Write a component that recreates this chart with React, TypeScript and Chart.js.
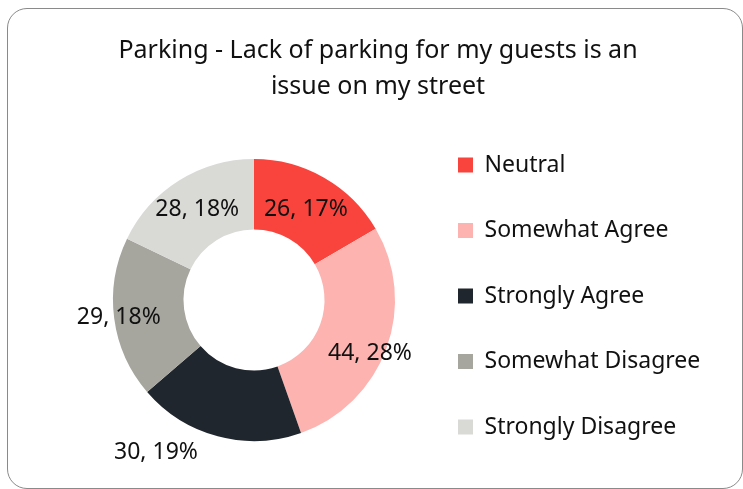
import React, { useEffect, useRef } from 'react';
import { Chart, registerables } from 'chart.js';

Chart.register(...registerables);

const categories = ['Neutral', 'Somewhat Agree', 'Strongly Agree', 'Somewhat Disagree', 'Strongly Disagree'];
const counts = [26, 44, 30, 29, 28];
const percents = [17, 28, 19, 18, 18];
const colors = ['#F9443D', '#FDB3AF', '#20262D', '#A6A59E', '#D9D9D6'];
const titleLines = ['Parking - Lack of parking for my guests is an', 'issue on my street'];

// label placement: distance from centre as a fraction of the outer radius, and angular shift (degrees)
const labelRadius = [0.74, 0.905, 1.283, 0.967, 0.757];
const labelShift = [0, 4.6, 17.9, 0, 0];

const FONT = '"Noto Sans", sans-serif';
const LEGEND_SIZE = 23;

const labelPlugin = {
  id: 'sliceLabels',
  afterDatasetsDraw(chart: any) {
    const meta = chart.getDatasetMeta(0);
    const ctx = chart.ctx;
    ctx.save();
    ctx.font = `23px ${FONT}`;
    ctx.fillStyle = '#111111';
    ctx.textAlign = 'center';
    ctx.textBaseline = 'middle';
    meta.data.forEach((arc: any, i: number) => {
      const p = arc.getProps(['x', 'y', 'startAngle', 'endAngle', 'outerRadius'], true);
      const a = (p.startAngle + p.endAngle) / 2 + (labelShift[i] * Math.PI) / 180;
      const r = p.outerRadius * labelRadius[i];
      ctx.fillText(`${counts[i]}, ${percents[i]}%`, p.x + Math.cos(a) * r, p.y + Math.sin(a) * r);
    });
    ctx.restore();
  },
};

const titleCenterPlugin = {
  id: 'titleCenter',
  afterLayout(chart: any) {
    const t = chart.titleBlock;
    if (t) {
      t.left = 13;
      t.right = 743;
      t.width = 730;
    }
  },
};

export default function App() {
  const ref = useRef<HTMLCanvasElement | null>(null);

  useEffect(() => {
    const canvas = ref.current;
    if (!canvas) return;
    const m = document.createElement('canvas').getContext('2d')!;
    m.font = `${LEGEND_SIZE}px ${FONT}`;
    const textW = Math.max(...categories.map((c) => m.measureText(c).width));
    const boxW = 15;
    const colWidth = boxW + LEGEND_SIZE / 2 + textW;
    const boxX = 458;
    const legendPad = 42.5;
    const padRight = 743 - boxX - colWidth - 10;
    const legendLeft = boxX - legendPad;
    const padLeft = 2 * 254 - legendLeft;

    const chart = new Chart(canvas, {
      type: 'doughnut',
      data: {
        labels: categories,
        datasets: [
          {
            data: counts,
            backgroundColor: colors,
            borderWidth: 0,
            radius: 141,
          } as any,
        ],
      },
      options: {
        responsive: false,
        animation: false,
        devicePixelRatio: 1,
        cutout: '50%',
        layout: { padding: { left: padLeft, right: padRight, top: 0, bottom: 8 } },
        plugins: {
          title: {
            display: true,
            text: titleLines,
            color: '#111111',
            font: { family: FONT, size: 25, weight: 'normal', lineHeight: '36px' },
            padding: { top: 33, bottom: 14 },
          },
          legend: {
            position: 'right',
            align: 'end',
            labels: {
              boxWidth: boxW,
              boxHeight: 15,
              padding: legendPad,
              color: '#111111',
              font: { family: FONT, size: LEGEND_SIZE },
            },
          },
          tooltip: { enabled: false },
        },
      },
      plugins: [labelPlugin, titleCenterPlugin],
    });
    return () => chart.destroy();
  }, []);

  return (
    <div
      style={{
        position: 'fixed',
        left: 0,
        top: 0,
        width: 743,
        height: 489,
        overflow: 'hidden',
        background: '#ffffff',
      }}
    >
      <div
        style={{
          position: 'absolute',
          left: 7,
          top: 8,
          width: 736,
          height: 481,
          border: '1px solid #8a8a8a',
          borderRadius: 20,
          boxSizing: 'border-box',
        }}
      />
      <canvas ref={ref} width={743} height={489} style={{ position: 'absolute', left: 0, top: 0 }} />
    </div>
  );
}
